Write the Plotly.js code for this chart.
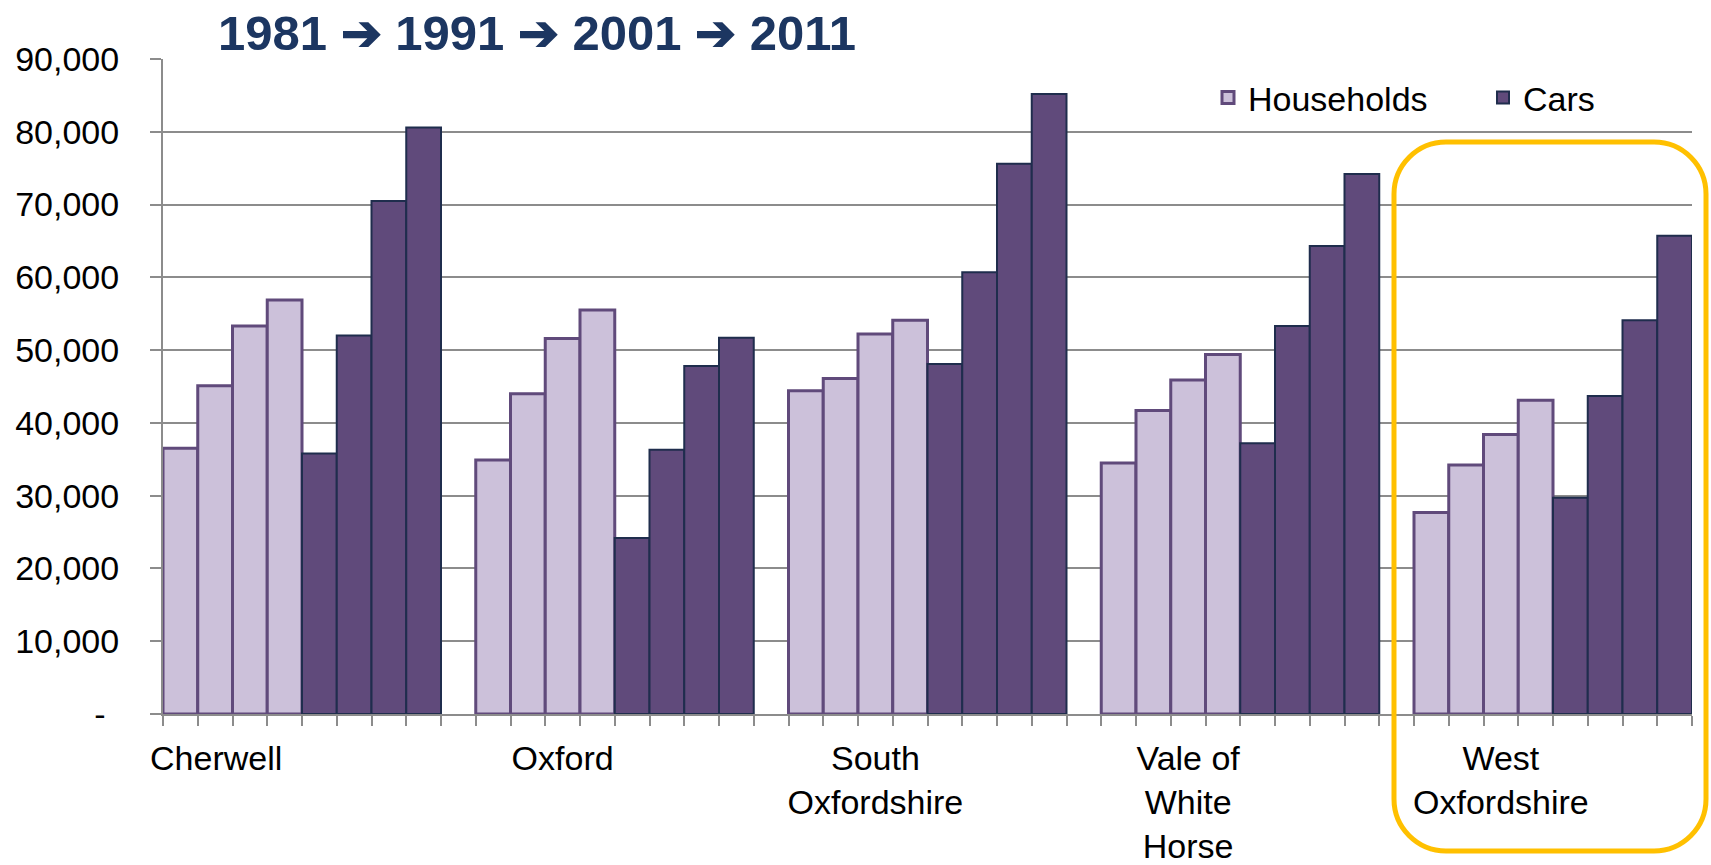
<!DOCTYPE html>
<html><head><meta charset="utf-8">
<script src="https://cdn.plot.ly/plotly-3.0.1.min.js"></script>
<style>html,body{margin:0;padding:0;background:#fff;} #chart{width:1711px;height:865px;}</style>
</head><body><div id="chart"></div>
<script>
// ---- data ----
const districts = ["Cherwell", "Oxford", "South<br>Oxfordshire", "Vale of<br>White<br>Horse", "West<br>Oxfordshire"];
const years = ["1981", "1991", "2001", "2011"];
const cherwellHouseholds = [36500, 45100, 53300, 56900];
const cherwellCars       = [35800, 52000, 70500, 80600];
const oxfordHouseholds   = [34900, 44000, 51600, 55500];
const oxfordCars         = [24200, 36300, 47800, 51700];
const southHouseholds    = [44400, 46100, 52200, 54100];
const southCars          = [48100, 60700, 75600, 85200];
const valeHouseholds     = [34500, 41700, 45900, 49400];
const valeCars           = [37200, 53300, 64300, 74200];
const westHouseholds     = [27700, 34200, 38400, 43100];
const westCars           = [29700, 43700, 54100, 65700];
const yTickValues = [0, 10000, 20000, 30000, 40000, 50000, 60000, 70000, 80000, 90000];
const yTickLabels = ["-\u2009\u2009", "10,000", "20,000", "30,000", "40,000", "50,000", "60,000", "70,000", "80,000", "90,000"];
const titleText = "1981 \u2794 1991 \u2794 2001 \u2794 2011";

const householdsByDistrict = [cherwellHouseholds, oxfordHouseholds, southHouseholds, valeHouseholds, westHouseholds];
const carsByDistrict = [cherwellCars, oxfordCars, southCars, valeCars, westCars];

// ---- layout geometry ----
const W = 1711, H = 865;
const M = {l: 163, r: 19, t: 59, b: 151};
const PW = W - M.l - M.r, PH = H - M.t - M.b;
const px2x = p => (p - M.l) / PW;
const px2y = p => (H - M.b - p) / PH;
const slots = years.length * 2 + 1;

const hx = [], hy = [], hText = [], cx = [], cy = [], cText = [];
householdsByDistrict.forEach((arr, d) => arr.forEach((v, j) => { hx.push(d * slots + j); hy.push(v); hText.push(districts[d] + " " + years[j]); }));
carsByDistrict.forEach((arr, d) => arr.forEach((v, j) => { cx.push(d * slots + years.length + j); cy.push(v); cText.push(districts[d] + " " + years[j]); }));

const nCats = districts.length * slots - 1;
const boundaries = [];
for (let k = 0; k <= nCats; k++) boundaries.push(k - 0.5);
const labelPos = districts.map((d, i) => i === 0 ? 1.03 : i * slots + 2);

const gray = "#8C8C8C";
const traces = [
  {type: "bar", name: "Households", x: hx, y: hy, text: hText, width: 1, textposition: "none",
   marker: {color: "#CCC1DA", line: {color: "#604A7B", width: 3}}, hoverinfo: "skip"},
  {type: "bar", name: "Cars", x: cx, y: cy, text: cText, width: 1, textposition: "none",
   marker: {color: "#604A7B", line: {color: "#1F2D4D", width: 2}}, hoverinfo: "skip"}
];

// rounded highlight rectangle (pixel geometry -> paper)
function roundedRect(x0, y0, x1, y1, r) {
  const k = 0.5523 * r;
  const P = (x, y) => px2x(x).toFixed(5) + "," + px2y(y).toFixed(5);
  return "M" + P(x0 + r, y0) + " L" + P(x1 - r, y0) +
    " C" + P(x1 - r + k, y0) + " " + P(x1, y0 + r - k) + " " + P(x1, y0 + r) +
    " L" + P(x1, y1 - r) +
    " C" + P(x1, y1 - r + k) + " " + P(x1 - r + k, y1) + " " + P(x1 - r, y1) +
    " L" + P(x0 + r, y1) +
    " C" + P(x0 + r - k, y1) + " " + P(x0, y1 - r + k) + " " + P(x0, y1 - r) +
    " L" + P(x0, y0 + r) +
    " C" + P(x0, y0 + r - k) + " " + P(x0 + r - k, y0) + " " + P(x0 + r, y0) + " Z";
}

const layout = {
  width: W, height: H,
  margin: {l: M.l, r: M.r, t: M.t, b: M.b, pad: 0, autoexpand: false},
  paper_bgcolor: "#ffffff", plot_bgcolor: "#ffffff",
  font: {family: "'Liberation Sans', Arial, sans-serif", size: 35, color: "#000000"},
  barmode: "overlay", bargap: 0,
  showlegend: true,
  legend: {orientation: "h", x: px2x(1208), y: px2y(98), xanchor: "left", yanchor: "middle",
           font: {size: 34}, bgcolor: "rgba(0,0,0,0)", entrywidth: 230, entrywidthmode: "pixels", traceorder: "normal"},
  xaxis: {range: [-0.5, nCats - 0.5], tickmode: "array", tickvals: labelPos, ticktext: districts,
          ticks: "", showgrid: false, zeroline: false, showline: true, linecolor: gray, linewidth: 2,
          ticklabelstandoff: 13, tickfont: {size: 34}, fixedrange: true,
          minor: {tickmode: "array", tickvals: boundaries, ticks: "outside", ticklen: 10, tickwidth: 2, tickcolor: gray, showgrid: false}},
  yaxis: {range: [0, 90000], tickmode: "array", tickvals: yTickValues, ticktext: yTickLabels,
          ticks: "outside", ticklen: 11, tickwidth: 2, tickcolor: gray,
          showgrid: true, gridcolor: gray, gridwidth: 2, showline: true, linecolor: gray, linewidth: 2,
          zeroline: false, ticklabelstandoff: 24, tickfont: {size: 34}, fixedrange: true},
  shapes: [
    {type: "rect", xref: "paper", yref: "paper", x0: px2x(202), x1: px2x(906), y0: px2y(66), y1: px2y(0),
     fillcolor: "#ffffff", line: {width: 0}, layer: "above"},
    {type: "path", xref: "paper", yref: "paper", path: roundedRect(1394, 142, 1706, 851, 52),
     line: {color: "#FFC000", width: 5}, fillcolor: "rgba(0,0,0,0)", layer: "above"}
  ],
  annotations: [
    {text: "<b>" + titleText + "</b>", xref: "paper", yref: "paper", x: px2x(537), y: px2y(33),
     xanchor: "center", yanchor: "middle", showarrow: false,
     font: {family: "'Liberation Sans', Arial, sans-serif", size: 49, color: "#1C3661"}}
  ]
};

Plotly.newPlot("chart", traces, layout, {displayModeBar: false, staticPlot: true});
</script>
</body></html>
